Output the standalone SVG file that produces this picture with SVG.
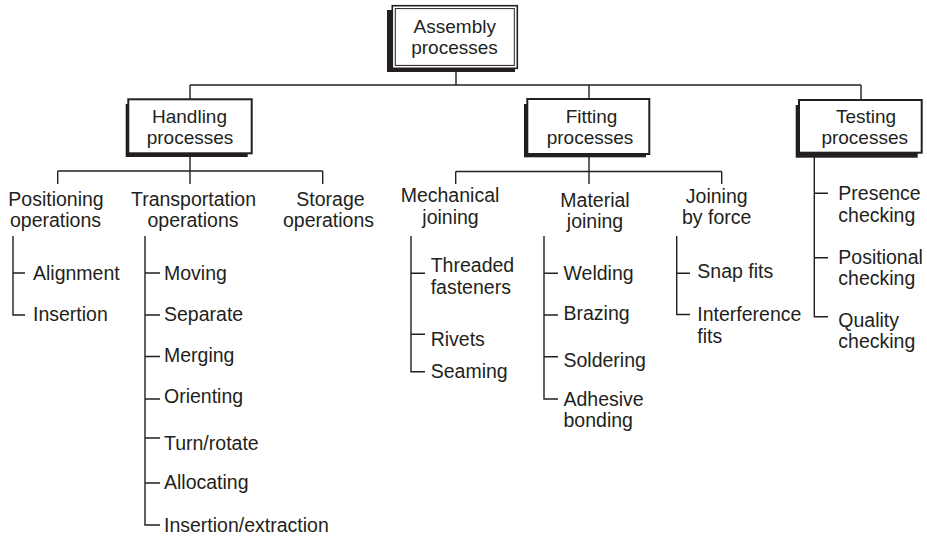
<svg xmlns="http://www.w3.org/2000/svg" width="927" height="536" viewBox="0 0 927 536">
<style>
text{font-family:"Liberation Sans",Arial,Helvetica,sans-serif;font-size:19.5px;fill:#231f20}
.c{text-anchor:middle}
.b{font-size:19px}
.ln{stroke:#231f20;stroke-width:1.4;fill:none}
.box{fill:#fff;stroke:#231f20;stroke-width:2}
.sh{fill:#231f20}
</style>
<rect width="927" height="536" fill="#fff"/>
<g id="connectors" class="ln">
<path d="M456 68V85M190 85H861M190 85V99M589 85V99M861 85V100"/>
<path d="M190 153V171M57.7 171H322.7M57.7 171V184M190 171V184M322.7 171V184"/>
<path d="M589 154V171.5M455.7 171.5H721.7M455.7 171.5V184M589 171.5V184M721.7 171.5V184"/>
<path d="M13 236V315H25M13 273H25"/>
<path d="M145 236V525H160M145 273H160M145 315H160M145 356.5H160M145 399H160M145 438H160M145 483H160"/>
<path d="M411 236V371.7H425M411 273.3H425M411 334.3H425"/>
<path d="M544 236V399H558M544 273.3H558M544 315H558M544 356.7H558"/>
<path d="M676.7 236V314.5H690M676.7 273.3H690"/>
<path d="M814.3 153V316.7H828M814.3 193.3H828M814.3 257.7H828"/>
</g>
<g id="assembly">
<rect class="sh" x="387" y="10" width="128" height="62"/>
<rect x="392.3" y="5.7" width="125" height="62.6" fill="#fff" stroke="#231f20" stroke-width="1.6"/>
<rect x="395.3" y="8.6" width="119" height="56.8" fill="none" stroke="#231f20" stroke-width="1"/>
<text class="c b" x="454.8" y="32.8">Assembly</text>
<text class="c b" x="454.5" y="54">processes</text>
</g>
<g id="handling">
<rect class="sh" x="125.7" y="104" width="122" height="53"/>
<rect class="box" x="128.3" y="99.3" width="123.4" height="54"/>
<text class="c b" x="189.5" y="122.8">Handling</text>
<text class="c b" x="190" y="144">processes</text>
</g>
<g id="fitting">
<rect class="sh" x="524" y="104" width="122" height="53.3"/>
<rect class="box" x="527.3" y="99" width="122" height="55"/>
<text class="c b" x="591.5" y="123">Fitting</text>
<text class="c b" x="590" y="144">processes</text>
</g>
<g id="testing">
<rect class="sh" x="795.7" y="105" width="122" height="52.7"/>
<rect class="box" x="799" y="100" width="122.7" height="52.7"/>
<text class="c b" x="866" y="123">Testing</text>
<text class="c b" x="864.7" y="144">processes</text>
</g>
<g id="positioning">
<text class="c" x="56" y="205.5">Positioning</text>
<text class="c" x="55.5" y="226.7">operations</text>
</g>
<g id="transportation">
<text class="c" x="193.5" y="205.5">Transportation</text>
<text class="c" x="193" y="226.7">operations</text>
</g>
<g id="storage">
<text class="c" x="330.5" y="205.5">Storage</text>
<text class="c" x="328.5" y="226.7">operations</text>
</g>
<g id="mechanical">
<text class="c" x="450" y="202.3">Mechanical</text>
<text class="c" x="450.5" y="224">joining</text>
</g>
<g id="material">
<text class="c" x="595" y="206.7">Material</text>
<text class="c" x="595" y="228.3">joining</text>
</g>
<g id="joiningforce">
<text class="c" x="716.7" y="203.3">Joining</text>
<text class="c" x="716.7" y="224">by force</text>
</g>
<g id="alignment"><text x="33" y="280">Alignment</text></g>
<g id="insertion"><text x="33" y="321">Insertion</text></g>
<g id="moving"><text x="164" y="280">Moving</text></g>
<g id="separate"><text x="164" y="321">Separate</text></g>
<g id="merging"><text x="164" y="362">Merging</text></g>
<g id="orienting"><text x="164" y="403">Orienting</text></g>
<g id="turnrotate"><text x="164" y="450">Turn/rotate</text></g>
<g id="allocating"><text x="164" y="489">Allocating</text></g>
<g id="insertionextraction"><text x="164" y="532">Insertion/extraction</text></g>
<g id="threaded"><text x="430.7" y="272.3">Threaded</text><text x="430.7" y="293.5">fasteners</text></g>
<g id="rivets"><text x="430.7" y="345.7">Rivets</text></g>
<g id="seaming"><text x="430.7" y="378.3">Seaming</text></g>
<g id="welding"><text x="563.5" y="279.5">Welding</text></g>
<g id="brazing"><text x="563.5" y="320">Brazing</text></g>
<g id="soldering"><text x="563.5" y="366.7">Soldering</text></g>
<g id="adhesive"><text x="563.5" y="406">Adhesive</text><text x="563.5" y="427">bonding</text></g>
<g id="snapfits"><text x="697.3" y="278.3">Snap fits</text></g>
<g id="interference"><text x="697.3" y="320.7">Interference</text><text x="697.3" y="343">fits</text></g>
<g id="presence"><text x="838.3" y="200">Presence</text><text x="838.3" y="221.7">checking</text></g>
<g id="positional"><text x="838.3" y="264">Positional</text><text x="838.3" y="285">checking</text></g>
<g id="quality"><text x="838.3" y="326.7">Quality</text><text x="838.3" y="348.3">checking</text></g>
</svg>
